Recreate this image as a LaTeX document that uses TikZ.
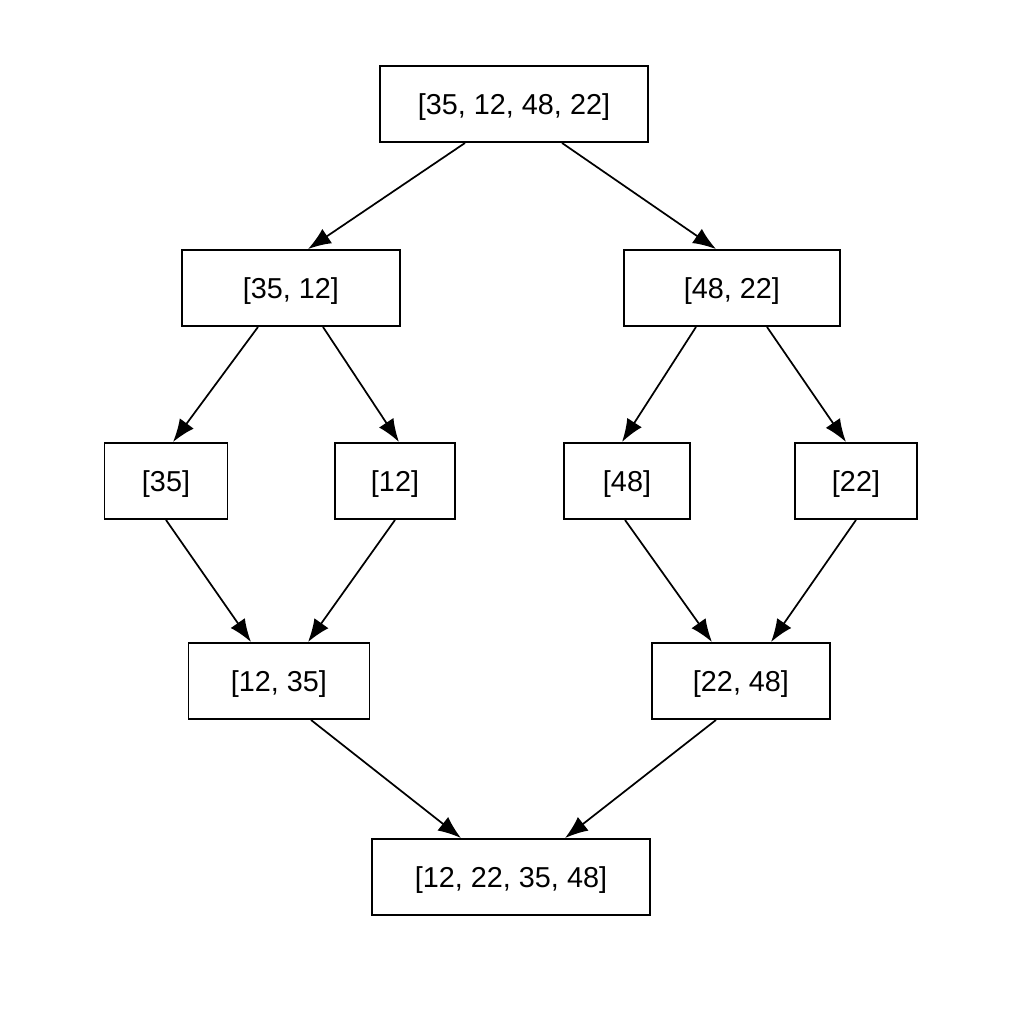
\documentclass[tikz,border=0pt]{standalone}
\usepackage{fontspec}
\setmainfont{Liberation Sans}
\usetikzlibrary{positioning,calc,arrows.meta}
\tikzset{box/.style={draw, semithick, minimum height=0.93cm, inner sep=0pt, text depth=0pt, font=\fontsize{10pt}{12pt}\selectfont}}
\tikzset{arr/.style={draw, -{Latex[length=8pt,width=6pt]}, semithick}}
\begin{document}
\begin{tikzpicture}[x=0.0122cm, y=-0.0122cm]
			\useasboundingbox (0,0) rectangle (1024,1024);
			\node[box, minimum width=3.27cm] (All) at (514,104) {[35, 12, 48, 22]};
			\node[box, minimum width=2.66cm] (L) at (291,288) {[35, 12]};
			\node[box, minimum width=2.64cm] (R) at (732,288) {[48, 22]};
			\node[box, minimum width=1.5cm] (A) at (166,481) {[35]};
			\node[box, minimum width=1.46cm] (B) at (395,481) {[12]};
			\node[box, minimum width=1.54cm] (C) at (627,481) {[48]};
			\node[box, minimum width=1.49cm] (D) at (856,481) {[22]};
			\node[box, minimum width=2.21cm] (ML) at (279,681) {[12, 35]};
			\node[box, minimum width=2.18cm] (MR) at (741,681) {[22, 48]};
			\node[box, minimum width=3.39cm] (Out) at (511,877) {[12, 22, 35, 48]};
%
			\draw[arr] ($(All.south)+(-49,0)$) -- ($(L.north)+(17,0)$);
			\draw[arr] ($(All.south)+(48,0)$) -- ($(R.north)+(-16,0)$);
			\draw[arr] ($(L.south)+(-33,0)$) -- ($(A.north)+(7,0)$);
			\draw[arr] ($(L.south)+(32,0)$) -- ($(B.north)+(4,0)$);
			\draw[arr] ($(R.south)+(-36,0)$) -- ($(C.north)+(-5,0)$);
			\draw[arr] ($(R.south)+(35,0)$) -- ($(D.north)+(-10,0)$);
			\draw[arr] (A.south) -- ($(ML.north)+(-28,0)$);
			\draw[arr] (B.south) -- ($(ML.north)+(29,0)$);
			\draw[arr] ($(C.south)+(-2,0)$) -- ($(MR.north)+(-29,0)$);
			\draw[arr] (D.south) -- ($(MR.north)+(30,0)$);
			\draw[arr] ($(ML.south)+(32,0)$) -- ($(Out.north)+(-50,0)$);
			\draw[arr] ($(MR.south)+(-25,0)$) -- ($(Out.north)+(54,0)$);
\end{tikzpicture}
\end{document}
